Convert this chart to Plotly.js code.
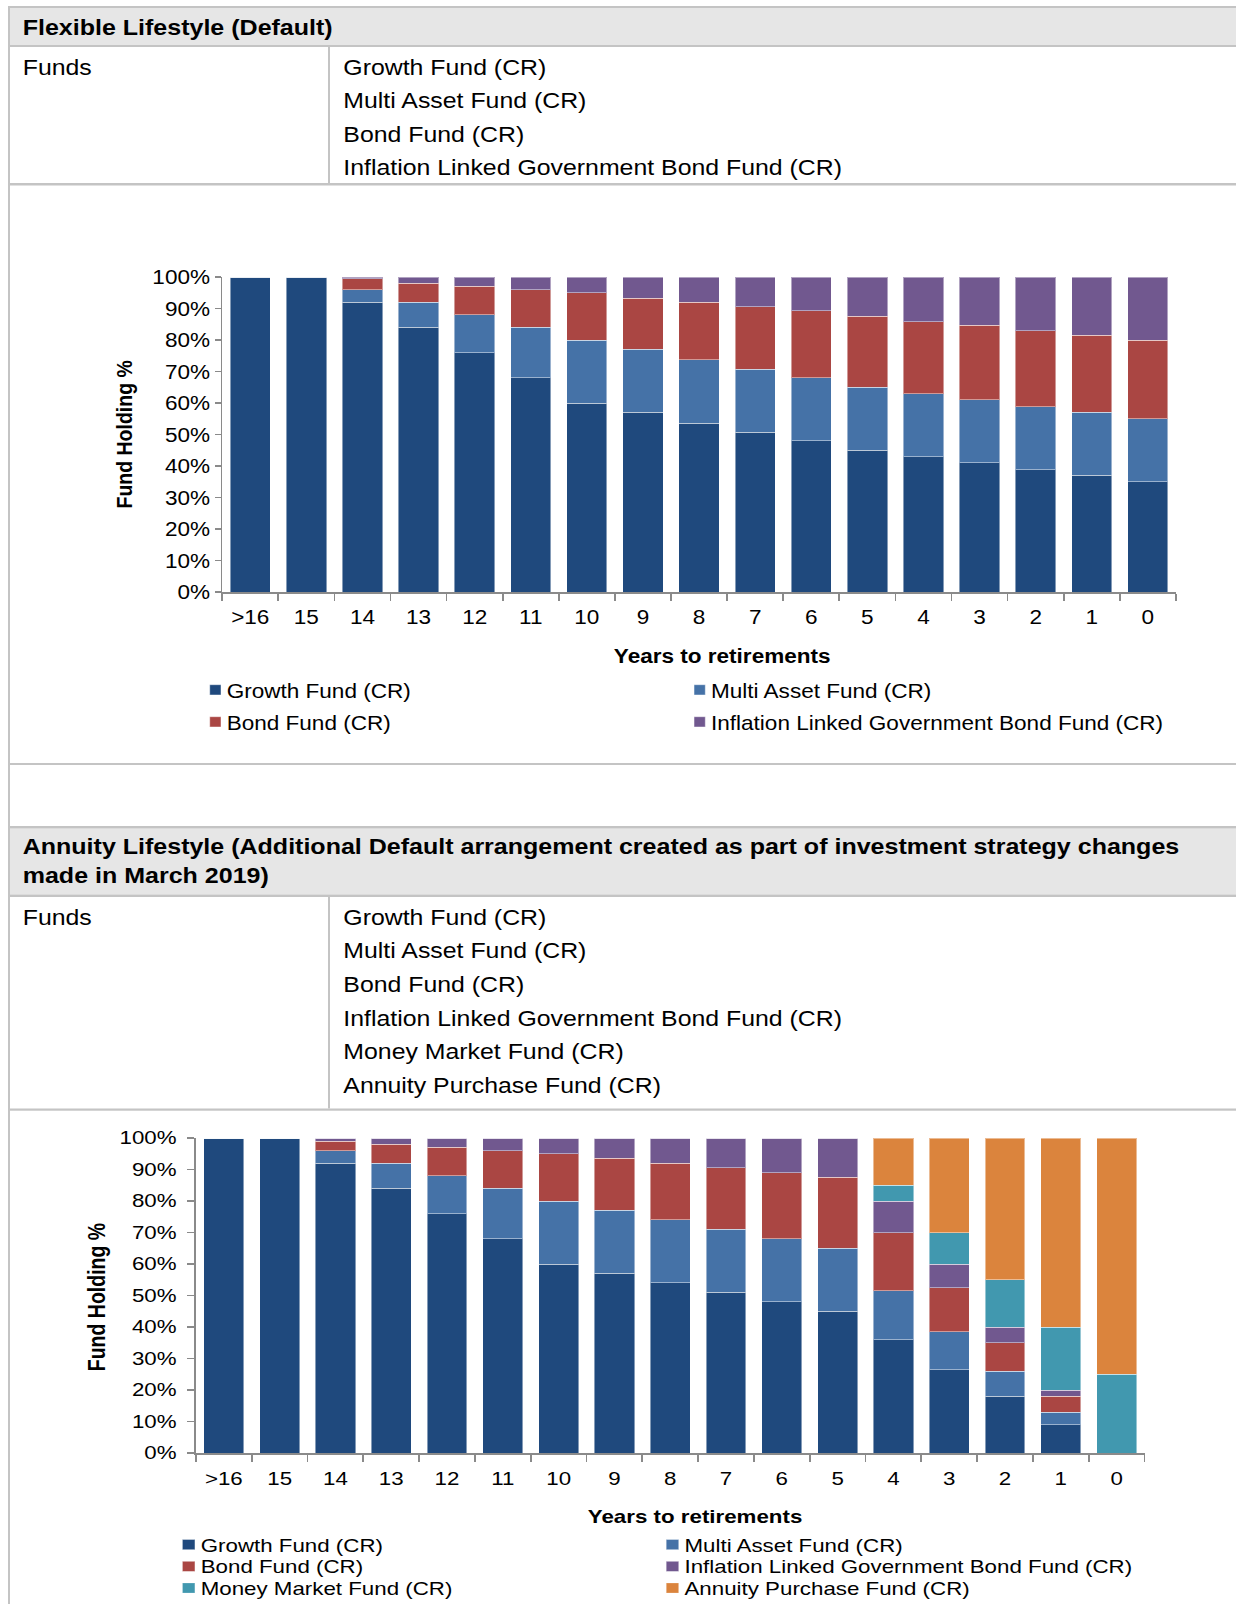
<!DOCTYPE html>
<html>
<head>
<meta charset="utf-8">
<script src="https://cdn.plot.ly/plotly-3.0.1.min.js"></script>
<style>
html,body{margin:0;padding:0;background:#fff;}
#page{position:relative;width:1236px;height:1604px;overflow:hidden;background:#fff;}
#tbl{position:absolute;left:0;top:0;}
.chart{position:absolute;left:0;transform-origin:0 0;}
#chart1 .legendpoints{transform:translate(12.7px,0px) scale(0.85);}
#chart2 .legendpoints{transform:translate(13.3px,0px) scale(0.85);}
</style>
</head>
<body>
<div id="page">
<svg id="tbl" width="1236" height="1604" xmlns="http://www.w3.org/2000/svg"></svg>
<div id="chart1" class="chart"></div>
<div id="chart2" class="chart"></div>
</div>
<script>
// ---------- DATA ----------
const categories = ['>16','15','14','13','12','11','10','9','8','7','6','5','4','3','2','1','0'];
const seriesNames = ['Growth Fund (CR)','Multi Asset Fund (CR)','Bond Fund (CR)','Inflation Linked Government Bond Fund (CR)','Money Market Fund (CR)','Annuity Purchase Fund (CR)'];

// Flexible Lifestyle (Default)
const flexGrowth = [100,100,92,84,76,68,60,57,53.5,50.75,48,45,43,41,38.75,37,35];
const flexMulti  = [0,0,4,8,12,16,20,20,20.25,20,20,20,20,20,20,20,20];
const flexBond   = [0,0,3.5,6,9,12,15,16.25,18.25,19.75,21.25,22.5,22.75,23.75,24.25,24.5,25];
const flexInfl   = [0,0,0.5,2,3,4,5,6.75,8,9.5,10.75,12.5,14.25,15.25,17,18.5,20];

// Annuity Lifestyle
const annGrowth  = [100,100,92,84,76,68,60,57,54,51,48,45,36,26.5,18,9,0];
const annMulti   = [0,0,4,8,12,16,20,20,20,20,20,20,15.5,12,8,4,0];
const annBond    = [0,0,3,6,9,12,15,16.5,18,19.5,21,22.5,18.5,14,9,5,0];
const annInfl    = [0,0,1,2,3,4,5,6.5,8,9.5,11,12.5,10,7.5,5,2,0];
const annMoney   = [0,0,0,0,0,0,0,0,0,0,0,0,5,10,15,20,25];
const annAnnuity = [0,0,0,0,0,0,0,0,0,0,0,0,15,30,45,60,75];

const yTickVals = [0,10,20,30,40,50,60,70,80,90,100];
const yTickText = ['0%','10%','20%','30%','40%','50%','60%','70%','80%','90%','100%'];
const xTitle = 'Years to retirements';
const yTitle = 'Fund Holding %';

// Table texts
const header1 = 'Flexible Lifestyle (Default)';
const header2Lines = ['Annuity Lifestyle (Additional Default arrangement created as part of investment strategy changes','made in March 2019)'];
const fundsLabel = 'Funds';
const fundsFlex = ['Growth Fund (CR)','Multi Asset Fund (CR)','Bond Fund (CR)','Inflation Linked Government Bond Fund (CR)'];
const fundsAnn = ['Growth Fund (CR)','Multi Asset Fund (CR)','Bond Fund (CR)','Inflation Linked Government Bond Fund (CR)','Money Market Fund (CR)','Annuity Purchase Fund (CR)'];

// ---------- STYLE ----------
const colors = ['#1F497D','#4572A7','#AA4643','#71588F','#4198AF','#DB843D'];
const FONT = 'Liberation Sans, Arial, Helvetica, sans-serif';
const LINE = '#c4c4c4', HEAD = '#e6e6e6';
const AXIS = '#8a8a8a';

// ---------- TABLE ----------
const svg = document.getElementById('tbl');
const NS = 'http://www.w3.org/2000/svg';
function rect(x,y,w,h,fill){
  const r = document.createElementNS(NS,'rect');
  r.setAttribute('x',x); r.setAttribute('y',y); r.setAttribute('width',w); r.setAttribute('height',h);
  r.setAttribute('fill',fill); svg.appendChild(r);
}
function txt(s,x,y,bold){
  const t = document.createElementNS(NS,'text');
  t.setAttribute('transform','translate('+x+' '+y+') scale('+(bold?1.138:1.13)+' 1)');
  t.setAttribute('font-family',FONT);
  t.setAttribute('font-size','22');
  if(bold) t.setAttribute('font-weight','bold');
  t.setAttribute('fill','#000');
  t.textContent = s; svg.appendChild(t);
}
// backgrounds
rect(10,8,1226,37,HEAD);
rect(10,828.5,1226,66,HEAD);
// lines
rect(8,6,1228,2,LINE);
rect(8,6,2,1598,LINE);
rect(10,45,1226,2,LINE);
rect(328,47,2,136,LINE);
rect(10,183,1226,2.5,LINE);
rect(10,763,1226,2,LINE);
rect(10,826,1226,2.5,LINE);
rect(10,894.5,1226,2.5,LINE);
rect(328,897,2,211.5,LINE);
rect(10,1108.5,1226,2.2,LINE);
// texts
txt(header1,22.7,35,true);
txt(fundsLabel,22.7,75,false);
fundsFlex.forEach((s,i)=>txt(s,343.3,75+33.4*i,false));
txt(header2Lines[0],22.7,854,true);
txt(header2Lines[1],22.7,883.3,true);
txt(fundsLabel,22.7,924.5,false);
fundsAnn.forEach((s,i)=>txt(s,343.3,924.5+33.7*i,false));

// ---------- CHARTS ----------
function makeChart(id, series, g){
  const sx = g.sx, W = 1236/sx, H = g.H;
  const div = document.getElementById(id);
  div.style.top = g.top+'px';
  div.style.width = W+'px';
  div.style.height = H+'px';
  div.style.transform = 'scaleX('+sx+')';
  const mL = g.plotL/sx, mR = (1236-g.plotR)/sx, mT = g.plotT-g.top, mB = g.top+H-g.plotB;
  const pW = W-mL-mR, pH = H-mT-mB;
  const traces = series.map((vals,i)=>({
    type:'bar', name: seriesNames[i], x: categories, y: vals,
    marker:{color: colors[i], line:{color:'rgba(255,255,255,0.45)', width:1}},
    legend: i===0 ? 'legend' : 'legend'+(i+1),
    hoverinfo:'skip'
  }));
  const layout = {
    width: W, height: H,
    margin:{l: mL, r: mR, t: mT, b: mB, autoexpand:false},
    paper_bgcolor:'rgba(0,0,0,0)', plot_bgcolor:'rgba(0,0,0,0)',
    barmode:'stack', bargap:0.28,
    font:{family:FONT, size:g.fs, color:'#000'},
    xaxis:{type:'category', categoryorder:'array', categoryarray:categories,
      showline:true, linecolor:AXIS, linewidth:1.5, ticks:'outside', tickson:'boundaries',
      ticklen:7, tickwidth:1.5, tickcolor:AXIS, showgrid:false, zeroline:false,
      tickfont:{family:FONT, size:g.fs, color:'#000'}, ticklabelstandoff:g.xStand,
      fixedrange:true},
    yaxis:{range:[0,100], tickmode:'array', tickvals:yTickVals, ticktext:yTickText,
      showline:true, linecolor:AXIS, linewidth:1.5,
      ticks:'outside', ticklen:5.5, tickwidth:1.5, tickcolor:AXIS, showgrid:false, zeroline:false,
      tickfont:{family:FONT, size:g.fs, color:'#000'}, ticklabelstandoff:g.yStand,
      fixedrange:true},
    annotations:[
      {text:xTitle, xref:'paper', yref:'paper', x:(g.xTitleX/sx-mL)/pW, y:1-(g.xTitleY-g.plotT)/pH,
       xanchor:'center', yanchor:'middle', showarrow:false,
       font:{family:FONT, size:g.fs, weight:'bold', color:'#000'}},
      {text:yTitle, xref:'paper', yref:'paper', x:(g.yTitleX/sx-mL)/pW, y:1-(g.yTitleY-g.plotT)/pH,
       xanchor:'center', yanchor:'middle', showarrow:false, textangle:-90,
       font:{family:FONT, size:19.5, weight:'bold', color:'#000'}}
    ],
    showlegend:true
  };
  series.forEach((v,i)=>{
    const col = i%2, row = Math.floor(i/2);
    const key = i===0 ? 'legend' : 'legend'+(i+1);
    layout[key] = {
      xref:'container', yref:'container',
      x: (g.legTextX[col]/sx - 40)/W, xanchor:'left',
      y: 1-(g.legRowY[row]-g.top)/H, yanchor:'middle',
      orientation:'v', bgcolor:'rgba(0,0,0,0)', borderwidth:0,
      font:{family:FONT, size:g.fs, color:'#000'}
    };
  });
  Plotly.newPlot(div, traces, layout, {staticPlot:true, displayModeBar:false});
}

makeChart('chart1', [flexGrowth, flexMulti, flexBond, flexInfl], {
  sx:1.1, top:186, H:578, plotL:222, plotR:1175, plotT:277.3, plotB:592.3,
  fs:20.5, xStand:6, yStand:13.5,
  xTitleX:722, xTitleY:656, yTitleX:124, yTitleY:435,
  legTextX:[226.7, 711], legRowY:[690, 722]
});
makeChart('chart2', [annGrowth, annMulti, annBond, annInfl, annMoney, annAnnuity], {
  sx:1.24, top:1110, H:494, plotL:196, plotR:1144, plotT:1138.3, plotB:1453.3,
  fs:18, xStand:9, yStand:5,
  xTitleX:694.8, xTitleY:1517.4, yTitleX:97, yTitleY:1297.4,
  legTextX:[200.7, 684.5], legRowY:[1545, 1566.7, 1588.3]
});
</script>
</body>
</html>
